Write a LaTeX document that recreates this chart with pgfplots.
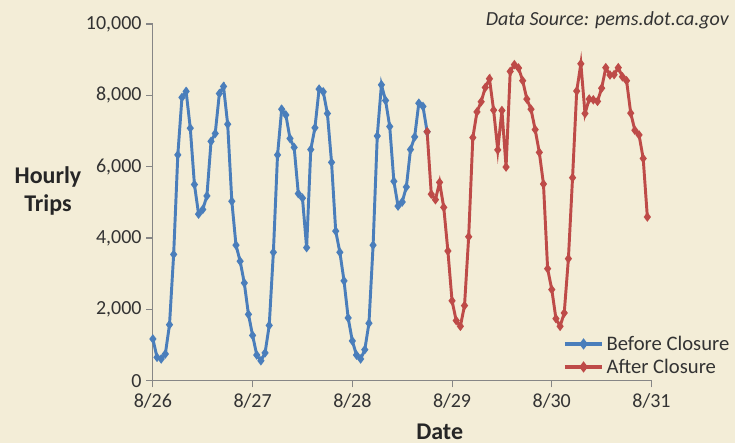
\documentclass[border=0pt]{standalone}
\usepackage{pgfplots}
\pgfplotsset{compat=1.18}
\usepackage{fontspec}
\setmainfont{Carlito}

\definecolor{bgcol}{HTML}{F3EDD7}
\definecolor{beforecol}{HTML}{4A7EBB}
\definecolor{aftercol}{HTML}{BE4B48}
\definecolor{axcol}{HTML}{868686}
\definecolor{txtcol}{HTML}{333333}

% hourly trips, one point per hour from 8/26 0:00
\pgfplotstableread{
h trips
0 1170
1 655
2 610
3 750
4 1570
5 3540
6 6330
7 7940
8 8110
9 7080
10 5500
11 4670
12 4800
13 5180
14 6710
15 6930
16 8050
17 8250
18 7190
19 5030
20 3800
21 3350
22 2740
23 1860
24 1270
25 720
26 560
27 780
28 1550
29 3600
30 6330
31 7610
32 7450
33 6790
34 6540
35 5245
36 5120
37 3730
38 6480
39 7090
40 8175
41 8100
42 7490
43 6120
44 4195
45 3600
46 2800
47 1760
48 1115
49 720
50 610
51 870
52 1610
53 3800
54 6860
55 8295
56 7855
57 7125
58 5590
59 4895
60 5010
61 5430
62 6480
63 6835
64 7780
65 7690
66 6980
}\before

\pgfplotstableread{
h trips
66 6980
67 5230
68 5075
69 5560
70 4860
71 3635
72 2240
73 1685
74 1525
75 2105
76 4035
77 6815
78 7535
79 7820
80 8220
81 8465
82 7585
83 6470
84 7575
85 5990
86 8670
87 8860
88 8765
89 8410
90 7895
91 7610
92 7040
93 6400
94 5515
95 3140
96 2555
97 1740
98 1525
99 1900
100 3420
101 5690
102 8120
103 8885
104 7490
105 7895
106 7875
107 7830
108 8200
109 8775
110 8570
111 8580
112 8775
113 8520
114 8410
115 7500
116 7020
117 6890
118 6230
119 4590
}\after

\begin{document}
\begin{tikzpicture}[x=0.75pt,y=0.75pt]
  % page background, 736 x 443 px, axis origin at px (153,381)
  \fill[bgcol] (-153,-62) rectangle (583,381);
  \begin{axis}[
      at={(0,0)}, anchor=south west,
      scale only axis,
      width=374.25pt, height=267.75pt,
      xmin=0, xmax=120,
      ymin=0, ymax=10000,
      axis x line*=bottom,
      axis y line*=left,
      axis line style={axcol, line width=0.8pt},
      xtick={0,24,...,120},
      xticklabels={8/26,8/27,8/28,8/29,8/30,8/31},
      ytick={0,2000,...,10000},
      scaled y ticks=false,
      /pgf/number format/1000 sep={,},
      /pgf/number format/assume math mode=true,
      tick align=outside,
      major tick length=5pt,
      tick style={axcol, line width=0.8pt},
      ticklabel style={font=\fontsize{15}{17}\selectfont, text=txtcol},
      xticklabel style={yshift=-1pt},
      clip=false,
      legend style={at={(1.17,0.0)}, anchor=south east, draw=none, fill=none,
        font=\fontsize{15.5}{17}\selectfont, text=txtcol, row sep=1pt,
        legend cell align=left},
      legend image code/.code={
        \draw[#1, line width=2.6pt, mark repeat=2, mark phase=2,
          mark options={solid, scale=1.2}]
          plot coordinates {(0pt,0pt) (14pt,0pt) (28pt,0pt)};},
    ]
    \addplot[beforecol, line width=2.2pt, mark=diamond*, mark size=1.8pt,
      mark options={solid}] table[x=h, y=trips] {\before};
    \addlegendentry{Before Closure}
    \addplot[aftercol, line width=2.2pt, mark=diamond*, mark size=1.8pt,
      mark options={solid}] table[x=h, y=trips] {\after};
    \addlegendentry{After Closure}
  \end{axis}
  \node[font=\bfseries\fontsize{18}{21}\selectfont, text=black!85, align=center]
    at (-105,190) {Hourly\\Trips};
  \node[font=\bfseries\fontsize{18}{21}\selectfont, text=black!85]
    at (287,-51) {Date};
  \node[font=\itshape\fontsize{15}{17}\selectfont, text=txtcol, anchor=east]
    at (581,361) {Data Source: pems.dot.ca.gov};
\end{tikzpicture}
\end{document}
